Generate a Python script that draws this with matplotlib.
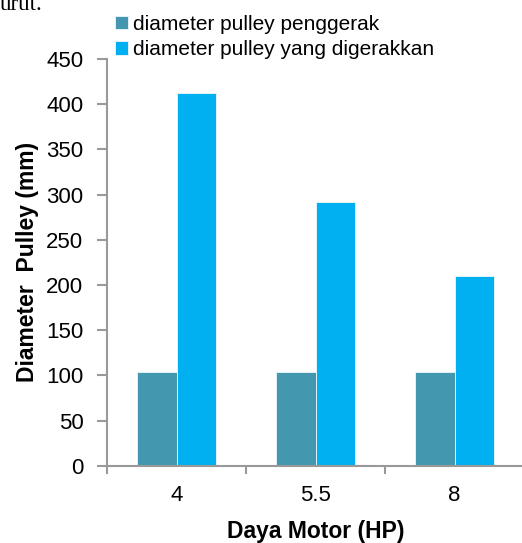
import numpy as np
import matplotlib
matplotlib.use("Agg")
import matplotlib.pyplot as plt

# Data
categories = ["4", "5.5", "8"]
penggerak = [104, 104, 104]
digerakkan = [412, 292, 210]
series_labels = ["diameter pulley penggerak", "diameter pulley yang digerakkan"]
y_ticks = [0, 50, 100, 150, 200, 250, 300, 350, 400, 450]

plt.rcParams["font.family"] = ["Liberation Sans", "DejaVu Sans"]

W, H = 522, 543
fig = plt.figure(figsize=(W / 100, H / 100), dpi=100)
ax = fig.add_axes([107 / W, 1 - 465.7 / H, 417 / W, (465.7 - 59) / H])

x = np.arange(len(categories))
bw = 0.284
c1, c2 = "#4398B0", "#00B0F0"
ax.bar(x - bw / 2, penggerak, bw, color=c1, edgecolor="#e3f3f8", linewidth=0.7,
       label=series_labels[0], zorder=2)
ax.bar(x + bw / 2, digerakkan, bw, color=c2, edgecolor="#e3f3f8", linewidth=0.7,
       label=series_labels[1], zorder=2)

ax.set_xlim(-0.5, 2.5)
ax.set_ylim(0, 450)
ax.set_yticks(y_ticks)
ax.set_yticklabels([str(v) for v in y_ticks], fontsize=16)

# category boundaries get the tick marks, centres get the labels
ax.set_xticks(np.arange(-0.5, len(categories), 1.0))
ax.set_xticklabels([])
ax.set_xticks(x, minor=True)
ax.set_xticklabels(categories, minor=True, fontsize=16)
ax.tick_params(axis="x", which="minor", length=0, pad=14)
ax.tick_params(axis="x", which="major", length=6, width=1.5, color="#999999")
ax.tick_params(axis="y", length=7, width=1.5, color="#999999", pad=10)

for s in ["top", "right"]:
    ax.spines[s].set_visible(False)
for s in ["left", "bottom"]:
    ax.spines[s].set_color("#999999")
    ax.spines[s].set_linewidth(1.5)

ax.set_xlabel("Daya Motor (HP)", fontsize=16.5, fontweight="bold", labelpad=10)
ax.set_ylabel("Diameter  Pulley (mm)", fontsize=16.5, fontweight="bold", va="center")
ax.yaxis.set_label_coords(-0.19, 0.5)

leg = fig.legend(loc="upper left", bbox_to_anchor=(115 / W, 1 - 15 / H),
                 frameon=False, fontsize=15, handlelength=0.6, handleheight=0.6,
                 handletextpad=0.25, labelspacing=0.3, borderpad=0, borderaxespad=0)

# trailing words of the surrounding paragraph
fig.text(0, 1 - 10 / H, "urut.", fontsize=16.5, family=["Liberation Serif"],
         ha="left", va="baseline")

fig.savefig("out.png", dpi=100)
